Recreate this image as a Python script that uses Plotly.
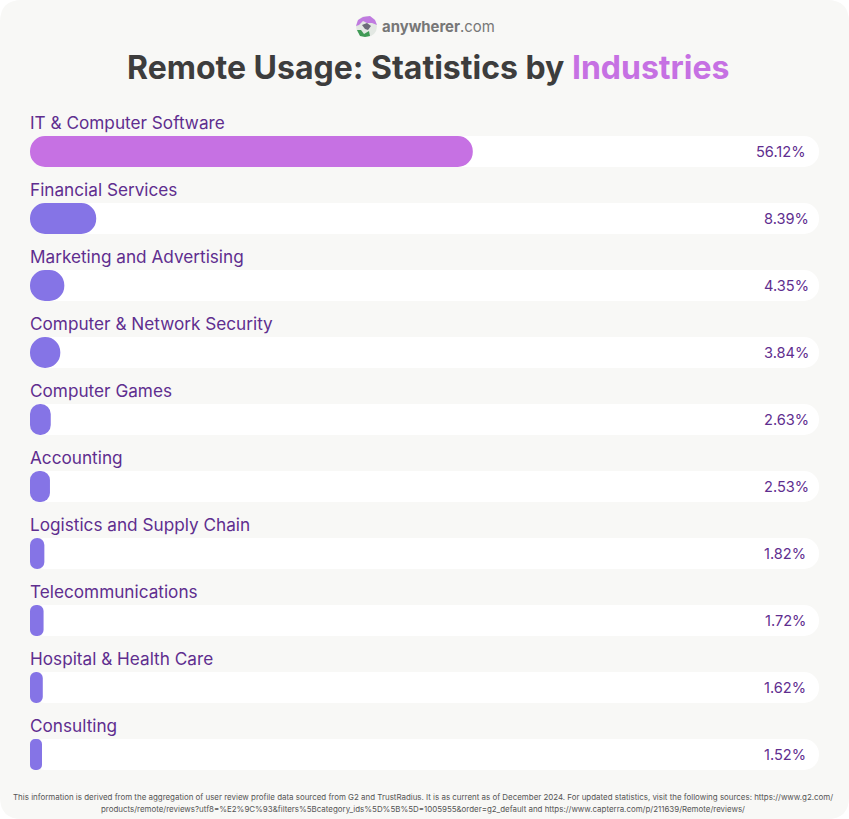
import plotly.graph_objects as go

categories = ["IT & Computer Software", "Financial Services", "Marketing and Advertising",
              "Computer & Network Security", "Computer Games", "Accounting",
              "Logistics and Supply Chain", "Telecommunications", "Hospital & Health Care", "Consulting"]
values = [56.12, 8.39, 4.35, 3.84, 2.63, 2.53, 1.82, 1.72, 1.62, 1.52]
track_total = [100] * len(categories)
colors = ["#C671E3"] + ["#8574E6"] * 9
footer_lines = [
    "This information is derived from the aggregation of user review profile data sourced from G2 and TrustRadius. It is as current as of December 2024. For updated statistics, visit the following sources: https://www.g2.com/",
    "products/remote/reviews?utf8=%E2%9C%93&filters%5Bcategory_ids%5D%5B%5D=1005955&order=g2_default and https://www.capterra.com/p/211639/Remote/reviews/",
]

W, H = 849, 819
L, R, T, B = 30, 819, 118, 788
BG = "#F8F8F6"
INK = "#5F2E8F"


def px(x):
    return (x - L) / (R - L)


def py(y):
    return 1 - (y - T) / (B - T)


def pill(vals, cols):
    return go.Bar(x=vals, y=categories, base=[0] * len(vals), orientation="h", hoverinfo="skip", showlegend=False,
                  marker=dict(color=cols, line_width=0, cornerradius=15.5))


fig = go.Figure()
fig.add_trace(pill(track_total, "#FFFFFF"))
fig.add_trace(pill(values, colors))

ann = []
for c, v in zip(categories, values):
    ann.append(dict(x=0, y=c, xref="x", yref="y", text=c, showarrow=False, xanchor="left", yanchor="middle",
                    xshift=-2, yshift=29, font=dict(family="Inter", size=17.2, color=INK, weight=400)))
    ann.append(dict(x=100, y=c, xref="x", yref="y", text=f"{v:.2f}%", showarrow=False, xanchor="right",
                    yanchor="middle", xshift=-8 if 2 <= v < 10 else -11,
                    font=dict(family="Inter", size=14.6, color=INK, weight=400)))

ann.append(dict(x=px(428), y=py(67.5), xref="paper", yref="paper", showarrow=False, xanchor="center", yanchor="middle",
                text='<b>Remote Usage: Statistics by <span style="color:#C671E3">Industries</span></b>',
                font=dict(family="Inter", size=32, color="#3D3D3D")))
ann.append(dict(x=px(380), y=py(27), xref="paper", yref="paper", showarrow=False, xanchor="left", yanchor="middle",
                text='<b>anywherer</b>.com', font=dict(family="Inter", size=14.9, color="#777777")))
for line, fy in zip(footer_lines, (797.5, 809)):
    ann.append(dict(x=px(423), y=py(fy), xref="paper", yref="paper", showarrow=False, xanchor="center",
                    yanchor="middle", text=line, font=dict(family="Inter", size=7.93, color="#555555")))


def rrect(x0, y0, x1, y1, r):
    a, b, c, d = px(x0), py(y0), px(x1), py(y1)
    rx, ry = r / (R - L), r / (B - T)
    return (f"M{a + rx},{b} L{c - rx},{b} Q{c},{b} {c},{b - ry} L{c},{d + ry} Q{c},{d} {c - rx},{d} "
            f"L{a + rx},{d} Q{a},{d} {a},{d + ry} L{a},{b - ry} Q{a},{b} {a + rx},{b} Z")


def blob(points):
    return "M" + " L".join(f"{px(x)},{py(y)}" for x, y in points) + " Z"


shapes = [
    dict(type="path", xref="paper", yref="paper", path=rrect(0, 0, W, H, 22), fillcolor=BG, line_width=0, layer="below"),
    dict(type="circle", xref="paper", yref="paper", x0=px(356), x1=px(377), y0=py(37), y1=py(16),
         fillcolor="#E3E8E3", line_width=0, layer="above"),
    dict(type="path", xref="paper", yref="paper", layer="above", fillcolor="#C07BE0", line_width=0,
         path=blob([(356, 26), (358, 20), (363, 17), (370, 16), (375, 20), (377, 25), (372, 23), (367, 23), (363, 21), (359, 25)])),
    dict(type="path", xref="paper", yref="paper", layer="above", fillcolor="#3F9A55", line_width=0,
         path=blob([(357, 30), (361, 30), (364, 34), (369, 31), (370, 36), (365, 37), (360, 36)])),
    dict(type="path", xref="paper", yref="paper", layer="above", fillcolor="#6B6B78", line_width=0,
         path=blob([(362, 25), (367, 23), (371, 26), (368, 30), (365, 29)])),
]

fig.update_layout(
    width=W, height=H, autosize=False,
    margin=dict(l=L, r=W - R, t=T, b=H - B, pad=0),
    paper_bgcolor="#FFFFFF", plot_bgcolor="rgba(0,0,0,0)",
    barmode="overlay", bargap=36 / 67,
    xaxis=dict(range=[0, 100], visible=False, fixedrange=True),
    yaxis=dict(categoryorder="array", categoryarray=categories, range=[9.5, -0.5], visible=False, fixedrange=True),
    annotations=ann, shapes=shapes,
)

fig.write_html("out.html", config={"displayModeBar": False},
               post_script="document.body.style.margin='0';document.documentElement.style.overflow='hidden';")
